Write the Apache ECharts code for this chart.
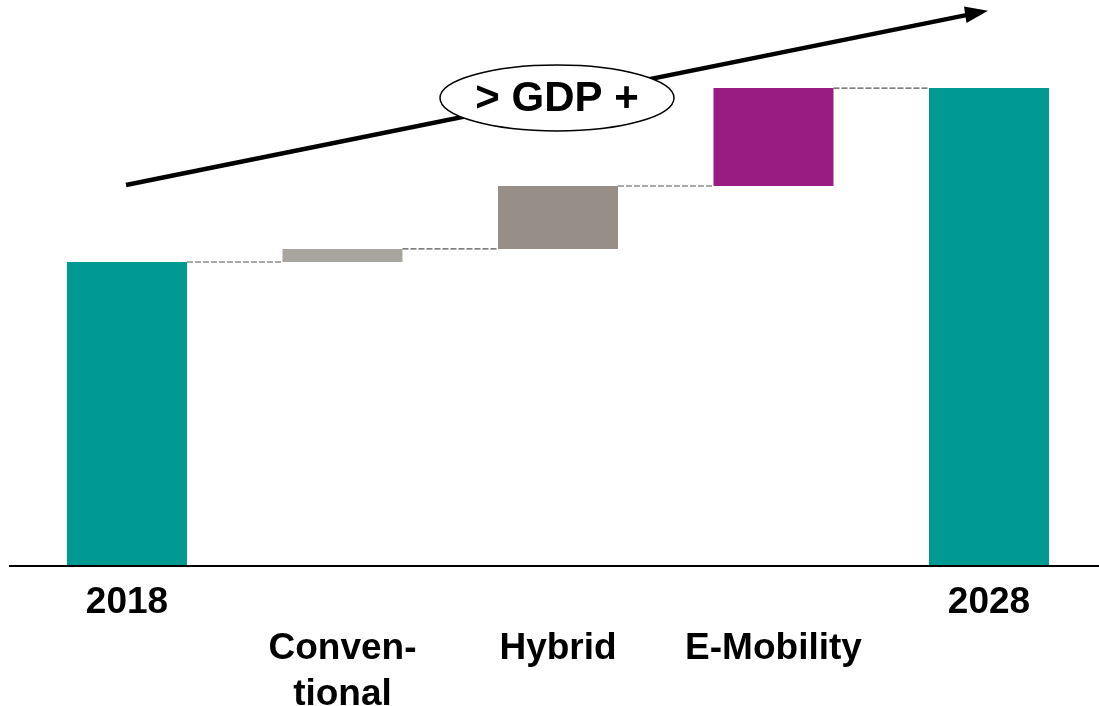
<!DOCTYPE html>
<html>
<head>
<meta charset="utf-8">
<script src="https://cdn.jsdelivr.net/npm/echarts@6/dist/echarts.min.js"></script>
<style>
  html, body { margin: 0; padding: 0; background: #fff; }
  #chartmain { width: 1099px; height: 706px; }
</style>
</head>
<body>
<div id="chartmain"></div>
<script>
// 类别与刻度标签
var categories = ['2018', 'Conventional', 'Hybrid', 'E-Mobility', '2028'];
var tickLabels = ['2018', '\nConven-\ntional', '\nHybrid', '\nE-Mobility', '2028'];
// 各柱的值（起止柱为总量，中间为增量）
var values = [100, 4.3, 20.7, 32.2, 157.2];
var isTotal = [true, false, false, false, true];
var barColors = ['#009A93', '#A8A49E', '#968E87', '#991C82', '#009A93'];

var FONT = 'Liberation Sans, Arial, Helvetica, sans-serif';

// 计算透明底座和每柱顶部
var baseData = [];
var tops = [];
var running = 0;
for (var i = 0; i < values.length; i++) {
  if (isTotal[i]) {
    baseData.push(0);
    running = values[i];
  } else {
    baseData.push(running);
    running += values[i];
  }
  tops.push(running);
}
var barData = [];
for (var i = 0; i < values.length; i++) {
  barData.push({ value: values[i], itemStyle: { color: barColors[i] } });
}
// 连接虚线：从第 i 柱顶到第 i+1 柱
var linkData = [];
for (var i = 0; i < values.length - 1; i++) {
  linkData.push([i, tops[i]]);
}

var BAR_W = 120;
var myChart = echarts.init(document.getElementById('chartmain'));
myChart.setOption({
  animation: false,
  backgroundColor: '#fff',
  grid: {
    left: 19.25, right: 2.25, top: 79.6, bottom: 140,
    containLabel: false, outerBoundsMode: 'none'
  },
  xAxis: {
    type: 'category',
    data: categories,
    axisLine: { show: false },
    axisTick: { show: false },
    axisLabel: {
      interval: 0,
      margin: 14,
      color: '#000',
      fontFamily: FONT,
      fontWeight: 'bold',
      fontSize: 37,
      lineHeight: 46,
      formatter: function (v, idx) { return tickLabels[idx]; }
    }
  },
  yAxis: { type: 'value', min: 0, max: 160, show: false },
  series: [
    {
      type: 'bar', stack: 'wf', barWidth: BAR_W,
      itemStyle: { color: 'transparent' },
      data: baseData, silent: true
    },
    {
      type: 'bar', stack: 'wf', barWidth: BAR_W,
      data: barData
    },
    {
      type: 'custom',
      data: linkData,
      z: 1,
      renderItem: function (params, api) {
        var idx = api.value(0);
        var top = api.value(1);
        var p1 = api.coord([idx, top]);
        var p2 = api.coord([idx + 1, top]);
        return {
          type: 'line',
          shape: { x1: p1[0] + BAR_W / 2, y1: p1[1], x2: p2[0] - BAR_W / 2, y2: p2[1] },
          style: { stroke: '#555', lineWidth: 1.2, lineDash: [6, 2] }
        };
      }
    }
  ],
  graphic: [
    {
      type: 'line', z: 10,
      shape: { x1: 9, y1: 566, x2: 1099, y2: 566 },
      style: { stroke: '#000', lineWidth: 2 }
    },
    {
      type: 'line', z: 10,
      shape: { x1: 126, y1: 185, x2: 970, y2: 14.4 },
      style: { stroke: '#000', lineWidth: 4.5 }
    },
    {
      type: 'polygon', z: 10,
      shape: { points: [[988, 10.8], [966.5, 23], [964, 6.5]] },
      style: { fill: '#000' }
    },
    {
      type: 'ellipse', z: 11,
      shape: { cx: 557, cy: 98, rx: 117, ry: 33 },
      style: { fill: '#fff', stroke: '#000', lineWidth: 1.5 }
    },
    {
      type: 'text', z: 12,
      x: 557, y: 99,
      style: {
        text: '> GDP +',
        fill: '#000',
        font: 'bold 42px ' + FONT,
        align: 'center',
        verticalAlign: 'middle'
      }
    }
  ]
});
</script>
</body>
</html>
